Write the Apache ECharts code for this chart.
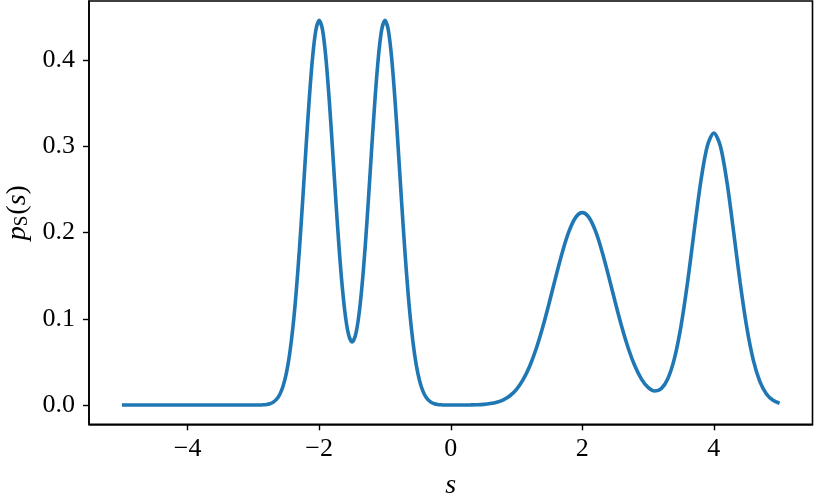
<!DOCTYPE html>
<html>
<head>
<meta charset="utf-8">
<script src="https://cdn.jsdelivr.net/npm/echarts@6/dist/echarts.min.js"></script>
<style>
  html, body { margin: 0; padding: 0; background: #fff; }
  #chart { width: 816px; height: 501px; }
</style>
</head>
<body>
<div id="chart"></div>
<script>
// sample points of s (denser around the two narrow peaks)
var sValues = [
  -5, -4.5, -4, -3.5,
  -3.00, -2.95, -2.90, -2.85, -2.80, -2.75, -2.70, -2.65, -2.60, -2.55,
  -2.50, -2.45, -2.40, -2.35, -2.30, -2.25, -2.20, -2.15, -2.10, -2.05,
  -2.00, -1.95, -1.90, -1.85, -1.80, -1.75, -1.70, -1.65, -1.60, -1.55,
  -1.50, -1.45, -1.40, -1.35, -1.30, -1.25, -1.20, -1.15, -1.10, -1.05,
  -1.00, -0.95, -0.90, -0.85, -0.80, -0.75, -0.70, -0.65, -0.60, -0.55,
  -0.50, -0.45, -0.40, -0.35, -0.30, -0.25, -0.20, -0.15, -0.10, -0.05,
  0.00,
  0.1, 0.2, 0.3, 0.4, 0.5, 0.6, 0.7, 0.8, 0.9, 1.0,
  1.1, 1.2, 1.3, 1.4, 1.5, 1.6, 1.7, 1.8, 1.9, 2.0,
  2.1, 2.2, 2.3, 2.4, 2.5, 2.6, 2.7, 2.8, 2.9, 3.0,
  3.1, 3.2, 3.3, 3.4, 3.5, 3.6, 3.7, 3.8, 3.9, 4.0,
  4.1, 4.2, 4.3, 4.4, 4.5, 4.6, 4.7, 4.8, 4.9, 5.0
];

// p_S(s) at those points
var pValues = [
  0, 0, 0, 0,
  0.0000, 0.0001, 0.0001, 0.0003, 0.0007, 0.0016, 0.0033, 0.0065, 0.0122, 0.0217,
  0.0366, 0.0589, 0.0900, 0.1310, 0.1813, 0.2387, 0.2990, 0.3561, 0.4035, 0.4350,
  0.4460, 0.4351, 0.4036, 0.3564, 0.2997, 0.2403, 0.1846, 0.1375, 0.1022, 0.0806,
  0.0732, 0.0806, 0.1022, 0.1375, 0.1846, 0.2403, 0.2997, 0.3564, 0.4036, 0.4351,
  0.4460, 0.4350, 0.4035, 0.3561, 0.2990, 0.2387, 0.1813, 0.1310, 0.0900, 0.0589,
  0.0366, 0.0217, 0.0122, 0.0065, 0.0033, 0.0016, 0.0007, 0.0003, 0.0001, 0.0001,
  0.0000,
  0.0000, 0.0001, 0.0002, 0.0004, 0.0008, 0.0017, 0.0033, 0.0061, 0.0108, 0.0183,
  0.0294, 0.0450, 0.0655, 0.0907, 0.1194, 0.1495, 0.1781, 0.2018, 0.2175, 0.2230,
  0.2175, 0.2018, 0.1781, 0.1495, 0.1194, 0.0907, 0.0656, 0.0452, 0.0301, 0.0204,
  0.0163, 0.0190, 0.0305, 0.0538, 0.0912, 0.1421, 0.2013, 0.2583, 0.3000, 0.3154,
  0.3000, 0.2582, 0.2011, 0.1417, 0.0904, 0.0521, 0.0272, 0.0129, 0.0055, 0.0021
];

var xTicks = [-4, -2, 0, 2, 4];
var yTicks = [0, 0.1, 0.2, 0.3, 0.4];

var serif = '"Liberation Serif", serif';

var points = sValues.map(function (s, i) { return [s, pValues[i]]; });

var chart = echarts.init(document.getElementById('chart'), null, { renderer: 'canvas' });

chart.setOption({
  animation: false,
  backgroundColor: '#fff',
  grid: {
    left: 89,
    right: 3.5,
    top: 1,
    bottom: 76.7,
    containLabel: false,
    outerBoundsMode: 'none',
    show: true,
    borderColor: '#000',
    borderWidth: 1.6,
    backgroundColor: 'transparent'
  },
  xAxis: {
    type: 'value',
    min: -5.5,
    max: 5.5,
    name: 's',
    nameLocation: 'middle',
    nameGap: 47,
    nameTextStyle: { fontFamily: serif, fontStyle: 'italic', fontSize: 28, color: '#000' },
    axisLine: { show: true, onZero: false, lineStyle: { color: '#000', width: 1.6 } },
    axisTick: { show: true, customValues: xTicks, length: 6, lineStyle: { color: '#000', width: 1.4 } },
    axisLabel: {
      customValues: xTicks,
      margin: 12,
      fontFamily: serif,
      fontSize: 26,
      color: '#000',
      formatter: function (v) { return v < 0 ? '\u2212' + Math.abs(v) : String(v); }
    },
    splitLine: { show: false }
  },
  yAxis: {
    type: 'value',
    min: -0.0223,
    max: 0.4683,
    name: '{i|p}{sub|S}{n|(}{i|s}{n|)}',
    nameLocation: 'middle',
    nameGap: 56,
    nameTextStyle: {
      color: '#000',
      rich: {
        i: { fontFamily: serif, fontStyle: 'italic', fontSize: 28, color: '#000' },
        n: { fontFamily: serif, fontSize: 28, color: '#000' },
        sub: { fontFamily: serif, fontSize: 19, color: '#000', verticalAlign: 'bottom', padding: [0, 1, 0, 0] }
      }
    },
    axisLine: { show: true, onZero: false, lineStyle: { color: '#000', width: 1.6 } },
    axisTick: { show: true, customValues: yTicks, length: 6, lineStyle: { color: '#000', width: 1.4 } },
    axisLabel: {
      customValues: yTicks,
      margin: 14,
      fontFamily: serif,
      fontSize: 26,
      color: '#000',
      formatter: function (v) { return v.toFixed(1); }
    },
    splitLine: { show: false }
  },
  series: [{
    type: 'line',
    data: points,
    smooth: 0.3,
    showSymbol: false,
    lineStyle: { color: '#1f77b4', width: 3.6 },
    itemStyle: { color: '#1f77b4' }
  }]
});
</script>
</body>
</html>
